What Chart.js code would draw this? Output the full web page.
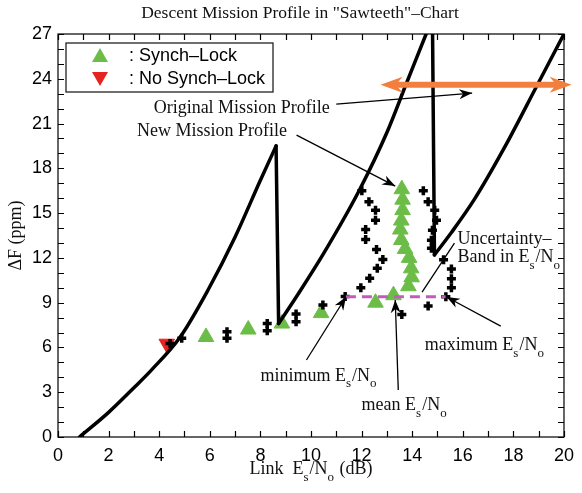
<!DOCTYPE html>
<html>
<head>
<meta charset="utf-8">
<script src="https://cdn.jsdelivr.net/npm/chart.js@4"></script>
<style>
html, body { margin: 0; padding: 0; background: #fff; }
</style>
</head>
<body>
<canvas id="myChart" width="582" height="493"></canvas>
<script>
// sawtooth boundary curves (Link Es/No in dB, dF in ppm)
const curve1X = [0.85, 2, 3, 3.7, 4.83, 5.93, 7, 8, 8.62];
const curve1Y = [0, 1.65, 3.3, 4.5, 6.7, 9.85, 13.4, 17.2, 19.5];
const drop1X = [8.62, 8.72];
const drop1Y = [19.5, 7.6];
const curve2X = [8.72, 9.5, 10.5, 11.9, 13.0, 13.75, 14.55, 14.8];
const curve2Y = [7.6, 9.6, 12.3, 16.5, 20.4, 23.6, 27, 28.1];
const drop2X = [14.8, 14.88];
const drop2Y = [28.1, 12.2];
const curve3X = [14.88, 15.55, 16.45, 17.65, 18.95, 20.0, 20.3];
const curve3Y = [12.2, 13.7, 15.9, 19.4, 23.6, 27, 28.0];

// measured points
const synchX = [5.85, 7.52, 8.85, 10.4, 12.55, 13.26, 13.59, 13.62, 13.62, 13.57, 13.53, 13.57, 13.72, 13.88, 13.96, 13.98, 13.85];
const synchY = [6.7, 7.2, 7.6, 8.3, 9.0, 9.5, 16.6, 15.9, 15.2, 14.5, 13.9, 13.2, 12.6, 12.0, 11.3, 10.7, 10.1];
const noSynchX = [4.3];
const noSynchY = [6.25];
const newProfileX = [4.43, 4.89, 6.68, 6.68, 8.27, 8.27, 9.41, 9.41, 10.47, 11.35, 11.97, 12.32, 12.62, 12.84, 12.59, 12.16, 12.16, 12.55, 12.55, 12.29, 12.01,
  13.59, 14.63, 14.44, 14.63, 14.89, 14.96, 14.8, 14.76, 14.76, 15.24, 15.55, 15.55, 15.55, 15.33];
const newProfileY = [6.27, 6.61, 7.05, 6.61, 7.61, 7.12, 8.24, 7.72, 8.84, 9.42, 10.0, 10.63, 11.3, 11.9, 12.57, 13.24, 13.91, 14.53, 15.2, 15.76, 16.5,
  8.2, 8.77, 16.5, 15.76, 15.2, 14.53, 13.86, 13.19, 12.64, 11.88, 11.25, 10.6, 10.0, 9.4];

// original mission profile (double arrow) and uncertainty band
const origProfileX = [12.75, 20.3];
const origProfileY = [23.6, 23.6];
const bandX = [11.38, 15.32];
const bandY = [9.4, 9.4];

// axis ticks
const xTicks = [0, 2, 4, 6, 8, 10, 12, 14, 16, 18, 20];
const yTicks = [0, 3, 6, 9, 12, 15, 18, 21, 24, 27];

// annotations (text uses _x for a subscript character)
const noteText = ['Original Mission Profile', 'New Mission Profile', 'Uncertainty\u2013', 'Band in E_s/N_o', 'maximum E_s/N_o', 'minimum E_s/N_o', 'mean E_s/N_o'];
const noteX = [3.78, 3.12, 15.79, 15.79, 14.5, 8.0, 12.0];
const noteY = [22.04, 20.5, 13.26, 12.06, 6.16, 4.09, 2.14];
const arrowFromX = [11.0, 9.43, 15.67, 17.5, 9.82, 13.45];
const arrowFromY = [22.3, 20.23, 12.99, 7.43, 5.16, 3.15];
const arrowToX = [16.37, 13.33, 14.39, 15.36, 11.38, 13.33];
const arrowToY = [23.04, 16.81, 9.71, 9.38, 9.38, 9.18];
const arrowHead = [true, true, false, true, true, true];

const GREEN = '#6cbd48';
const RED = '#e52421';
const ORANGE = '#f27f3d';
const PINK = '#c05cbc';
const SERIF = '"Liberation Serif", "DejaVu Serif", serif';
const SANS = '"Liberation Sans", Arial, sans-serif';

const pts = (xs, ys) => xs.map((x, i) => ({x: x, y: ys[i]}));

function lineSet(xs, ys, smooth) {
    return {
        data: pts(xs, ys),
        showLine: true,
        borderColor: '#000',
        borderWidth: 3.5,
        pointRadius: 0,
        tension: smooth ? 0.4 : 0,
        cubicInterpolationMode: smooth ? 'monotone' : 'default',
        borderCapStyle: 'round',
    };
}

function richParts(text) {
    const parts = [];
    let buf = '';
    for (let i = 0; i < text.length; i++) {
        if (text[i] === '_') {
            if (buf) parts.push({t: buf});
            buf = '';
            parts.push({t: text[i + 1], sub: true});
            i++;
        } else {
            buf += text[i];
        }
    }
    if (buf) parts.push({t: buf});
    return parts;
}

function drawRich(ctx, text, x, y, align, size) {
    const parts = richParts(text);
    let w = 0;
    parts.forEach(p => {
        ctx.font = (p.sub ? Math.round(size * 0.7) : size) + 'px ' + SERIF;
        p.w = ctx.measureText(p.t).width + (p.sub ? 1 : 0);
        w += p.w;
    });
    let cx = align === 'center' ? x - w / 2 : (align === 'right' ? x - w : x);
    ctx.textAlign = 'left';
    ctx.textBaseline = 'middle';
    parts.forEach(p => {
        ctx.font = (p.sub ? Math.round(size * 0.7) : size) + 'px ' + SERIF;
        ctx.fillText(p.t, cx, y + (p.sub ? size * 0.45 : 0));
        cx += p.w;
    });
}

function arrowHeadAt(ctx, x0, y0, x1, y1, len, half) {
    const a = Math.atan2(y1 - y0, x1 - x0);
    ctx.save();
    ctx.translate(x1, y1);
    ctx.rotate(a);
    ctx.beginPath();
    ctx.moveTo(0, 0);
    ctx.lineTo(-len, -half);
    ctx.lineTo(-len * 0.7, 0);
    ctx.lineTo(-len, half);
    ctx.closePath();
    ctx.fill();
    ctx.restore();
}

const decorations = {
    id: 'decorations',
    afterDraw(chart) {
        const ctx = chart.ctx;
        const xs = chart.scales.x, ys = chart.scales.y;
        const a = chart.chartArea;
        ctx.save();

        // frame + inward ticks on all sides
        ctx.strokeStyle = '#000';
        ctx.lineWidth = 1.2;
        ctx.strokeRect(a.left, a.top, a.right - a.left, a.bottom - a.top);
        ctx.beginPath();
        for (let v = 0; v <= 20; v++) {
            const px = Math.round(xs.getPixelForValue(v)) + 0.5;
            ctx.moveTo(px, a.bottom); ctx.lineTo(px, a.bottom - 6);
            ctx.moveTo(px, a.top); ctx.lineTo(px, a.top + 6);
        }
        for (let v = 0; v <= 27; v++) {
            const py = Math.round(ys.getPixelForValue(v)) + 0.5;
            ctx.moveTo(a.left, py); ctx.lineTo(a.left + 6, py);
            ctx.moveTo(a.right, py); ctx.lineTo(a.right - 6, py);
        }
        ctx.stroke();

        // original mission profile: orange double arrow
        const ox0 = xs.getPixelForValue(origProfileX[0]), ox1 = xs.getPixelForValue(origProfileX[1]);
        const oy0 = ys.getPixelForValue(origProfileY[0]), oy1 = ys.getPixelForValue(origProfileY[1]);
        ctx.strokeStyle = ORANGE;
        ctx.fillStyle = ORANGE;
        ctx.lineWidth = 6;
        ctx.beginPath();
        ctx.moveTo(ox0 + 14, oy0);
        ctx.lineTo(ox1 - 14, oy1);
        ctx.stroke();
        arrowHeadAt(ctx, ox0, oy0, ox1, oy1, 22, 8);
        arrowHeadAt(ctx, ox1, oy1, ox0, oy0, 22, 8);

        // annotation arrows
        ctx.strokeStyle = '#000';
        ctx.fillStyle = '#000';
        ctx.lineWidth = 1.3;
        arrowFromX.forEach((fx, i) => {
            const x0 = xs.getPixelForValue(fx), y0 = ys.getPixelForValue(arrowFromY[i]);
            const x1 = xs.getPixelForValue(arrowToX[i]), y1 = ys.getPixelForValue(arrowToY[i]);
            ctx.beginPath();
            ctx.moveTo(x0, y0);
            ctx.lineTo(x1, y1);
            ctx.stroke();
            if (arrowHead[i]) arrowHeadAt(ctx, x0, y0, x1, y1, 13, 5);
        });

        // annotation texts
        ctx.fillStyle = '#111';
        noteText.forEach((t, i) => {
            drawRich(ctx, t, xs.getPixelForValue(noteX[i]), ys.getPixelForValue(noteY[i]), 'left', 18);
        });

        // title and axis titles
        drawRich(ctx, 'Descent Mission Profile in "Sawteeth"\u2013Chart', 300, 13, 'center', 17.5);
        drawRich(ctx, 'Link  E_s/N_o (dB)', (a.left + a.right) / 2, 469, 'center', 18);
        ctx.save();
        ctx.translate(16, (a.top + a.bottom) / 2);
        ctx.rotate(-Math.PI / 2);
        drawRich(ctx, '\u0394F (ppm)', 0, 0, 'center', 18);
        ctx.restore();

        // legend box
        ctx.fillStyle = '#fff';
        ctx.fillRect(66, 43, 207, 49);
        ctx.strokeStyle = '#222';
        ctx.lineWidth = 1.3;
        ctx.strokeRect(66, 43, 207, 49);
        ctx.fillStyle = GREEN;
        ctx.beginPath();
        ctx.moveTo(100, 48); ctx.lineTo(108, 62); ctx.lineTo(92, 62); ctx.closePath();
        ctx.fill();
        ctx.fillStyle = RED;
        ctx.beginPath();
        ctx.moveTo(100, 86); ctx.lineTo(108, 72); ctx.lineTo(92, 72); ctx.closePath();
        ctx.fill();
        ctx.fillStyle = '#000';
        ctx.font = '18px ' + SANS;
        ctx.textAlign = 'left';
        ctx.textBaseline = 'middle';
        ctx.fillText(': Synch\u2013Lock', 129, 56);
        ctx.fillText(': No Synch\u2013Lock', 129, 79);
        ctx.restore();
    }
};

const data = {
    datasets: [
        lineSet(curve1X, curve1Y, true),
        lineSet(drop1X, drop1Y, false),
        lineSet(curve2X, curve2Y, true),
        lineSet(drop2X, drop2Y, false),
        lineSet(curve3X, curve3Y, true),
        {
            data: pts(bandX, bandY),
            showLine: true,
            borderColor: PINK,
            borderWidth: 3,
            borderDash: [10, 6],
            pointRadius: 0,
        },
        {
            label: 'New Mission Profile',
            data: pts(newProfileX, newProfileY),
            pointStyle: 'cross',
            pointRadius: 4.5,
            borderColor: '#000',
            borderWidth: 3.5,
        },
        {
            label: 'Synch-Lock',
            data: pts(synchX, synchY),
            pointStyle: 'triangle',
            pointRadius: 9,
            backgroundColor: GREEN,
            borderColor: GREEN,
            borderWidth: 1,
        },
        {
            label: 'No Synch-Lock',
            data: pts(noSynchX, noSynchY),
            pointStyle: 'triangle',
            rotation: 180,
            pointRadius: 9,
            backgroundColor: RED,
            borderColor: RED,
            borderWidth: 1,
        },
    ]
};

const config = {
    type: 'scatter',
    data: data,
    options: {
        responsive: false,
        animation: false,
        layout: { padding: { top: 34, right: 11, left: 0, bottom: 0 } },
        plugins: {
            legend: { display: false },
            tooltip: { enabled: false },
        },
        scales: {
            x: {
                type: 'linear',
                min: 0,
                max: 20,
                afterFit: (s) => { s.height = 56; },
                afterBuildTicks: (s) => { s.ticks = xTicks.map(v => ({value: v})); },
                grid: { display: false, drawTicks: false },
                border: { display: false },
                ticks: {
                    color: '#000',
                    padding: 8,
                    maxRotation: 0,
                    font: { family: SANS, size: 18 },
                }
            },
            y: {
                type: 'linear',
                min: 0,
                max: 27,
                afterFit: (s) => { s.width = 58; },
                afterBuildTicks: (s) => { s.ticks = yTicks.map(v => ({value: v})); },
                grid: { display: false, drawTicks: false },
                border: { display: false },
                ticks: {
                    color: '#000',
                    padding: 6,
                    font: { family: SANS, size: 18 },
                }
            }
        }
    },
    plugins: [decorations]
};

const myChart = new Chart(
    document.getElementById('myChart'),
    config
);
</script>
</body>
</html>
